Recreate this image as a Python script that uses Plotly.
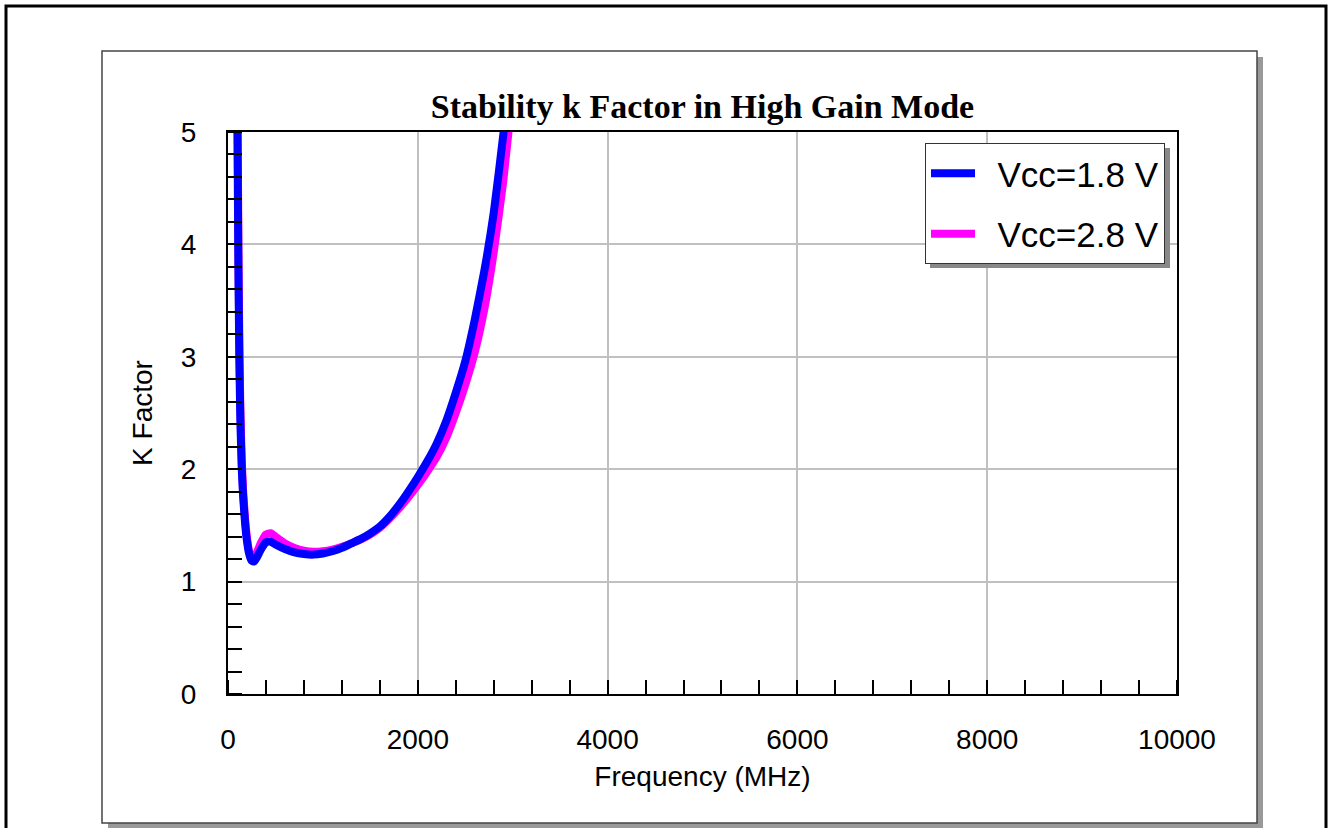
import plotly.graph_objects as go

# Stability factor k versus frequency for two supply voltages
freq_mhz = [90, 100, 110, 120, 130, 145, 160, 180, 200, 225, 250, 275, 300, 350,
            400, 450, 500, 600, 700, 800, 900, 1000, 1100, 1200, 1300, 1400, 1500,
            1600, 1700, 1800, 1900, 2000, 2100, 2200, 2300, 2400, 2500, 2600, 2700,
            2800, 2900, 3000]

k_vcc_1v8 = [6.5, 5.0, 3.75, 2.95, 2.45, 2.0, 1.75, 1.52, 1.36, 1.24, 1.185, 1.18, 1.21, 1.29,
             1.35, 1.355, 1.33, 1.29, 1.26, 1.245, 1.24, 1.25, 1.27, 1.30, 1.34, 1.38, 1.43,
             1.49, 1.575, 1.68, 1.80, 1.93, 2.07, 2.23, 2.43, 2.68, 2.96, 3.33, 3.76,
             4.28, 4.97, 5.7]

k_vcc_2v8 = [6.8, 5.3, 3.95, 3.1, 2.55, 2.08, 1.8, 1.56, 1.39, 1.26, 1.2, 1.2, 1.25, 1.35,
             1.42, 1.43, 1.40, 1.34, 1.30, 1.275, 1.265, 1.27, 1.285, 1.31, 1.34, 1.375, 1.42,
             1.48, 1.56, 1.65, 1.75, 1.86, 1.98, 2.11, 2.28, 2.50, 2.75, 3.04, 3.42,
             3.93, 4.56, 5.35]

series_names = ["Vcc=1.8 V", "Vcc=2.8 V"]
series_colors = ["#0000ff", "#ff00ff"]

x_ticks = [0, 2000, 4000, 6000, 8000, 10000]
y_ticks = [0, 1, 2, 3, 4, 5]

W, H = 1330, 828
L, R, T, B = 228, 1177, 132, 694  # plot area in pixels


def px(x):
    return (x - L) / (R - L)


def py(y):
    return (B - y) / (B - T)


# an en space keeps the legend text clear of its line sample
GAP = "\u2002"

fig = go.Figure()

# magenta drawn first so the blue trace sits on top
fig.add_trace(go.Scatter(x=freq_mhz, y=k_vcc_2v8, mode="lines", name=GAP + series_names[1],
                         line=dict(color=series_colors[1], width=8, shape="spline", smoothing=0.5),
                         legendrank=2, legendgroup="b"))
fig.add_trace(go.Scatter(x=freq_mhz, y=k_vcc_1v8, mode="lines", name=GAP + series_names[0],
                         line=dict(color=series_colors[0], width=8, shape="spline", smoothing=0.5),
                         legendrank=1, legendgroup="a"))

shapes = [
    # outer frame
    dict(type="rect", xref="paper", yref="paper", layer="below",
         x0=px(6), x1=px(1326), y0=py(840), y1=py(6),
         line=dict(color="black", width=3), fillcolor="white"),
    # panel shadow
    dict(type="rect", xref="paper", yref="paper", layer="below",
         x0=px(108), x1=px(1263), y0=py(829), y1=py(57),
         line=dict(width=0), fillcolor="#999999"),
    # panel
    dict(type="rect", xref="paper", yref="paper", layer="below",
         x0=px(102), x1=px(1257), y0=py(823), y1=py(51),
         line=dict(color="#444444", width=1.5), fillcolor="white"),
    # legend shadow
    dict(type="rect", xref="paper", yref="paper", layer="above",
         x0=px(930), x1=px(1170), y0=py(268), y1=py(148),
         line=dict(width=0), fillcolor="#888888"),
]

axis_common = dict(
    showline=True, linecolor="black", linewidth=2, mirror=True,
    showgrid=True, gridcolor="#c0c0c0", gridwidth=1.5,
    ticks="", zeroline=False,
    tickfont=dict(family="Liberation Sans, Arial", size=28, color="black"),
)

fig.update_layout(
    width=W, height=828,
    margin=dict(l=L, r=W - R, t=T, b=H - B, pad=0),
    paper_bgcolor="white", plot_bgcolor="white",
    shapes=shapes,
    title=dict(text="<b>Stability k Factor in High Gain Mode</b>",
               font=dict(family="Liberation Serif, Times New Roman", size=34, color="black"),
               x=(L + R) / 2 / W, xanchor="center", xref="container",
               y=1 - 106 / H, yanchor="middle", yref="container"),
    xaxis=dict(range=[0, 10000], tickvals=x_ticks, ticktext=[str(v) for v in x_ticks],
               ticklabelstandoff=19,
               minor=dict(dtick=400, ticks="inside", ticklen=14, tickwidth=2,
                          tickcolor="black", showgrid=False),
               title=dict(text="Frequency (MHz)", standoff=13,
                          font=dict(family="Liberation Sans, Arial", size=28, color="black")),
               **axis_common),
    yaxis=dict(range=[0, 5], tickvals=y_ticks, ticktext=[str(v) for v in y_ticks],
               ticklabelstandoff=24,
               minor=dict(dtick=0.2, ticks="inside", ticklen=14, tickwidth=2,
                          tickcolor="black", showgrid=False),
               title=dict(text="K Factor", standoff=20,
                          font=dict(family="Liberation Sans, Arial", size=28, color="black")),
               **axis_common),
    legend=dict(x=px(925), y=py(143), xanchor="left", yanchor="top",
                bgcolor="white", bordercolor="#333333", borderwidth=1,
                font=dict(family="Liberation Sans, Arial", size=35, color="black"),
                itemwidth=44,
                tracegroupgap=12, traceorder="grouped"),
    showlegend=True,
)

fig.write_html("out.html")
